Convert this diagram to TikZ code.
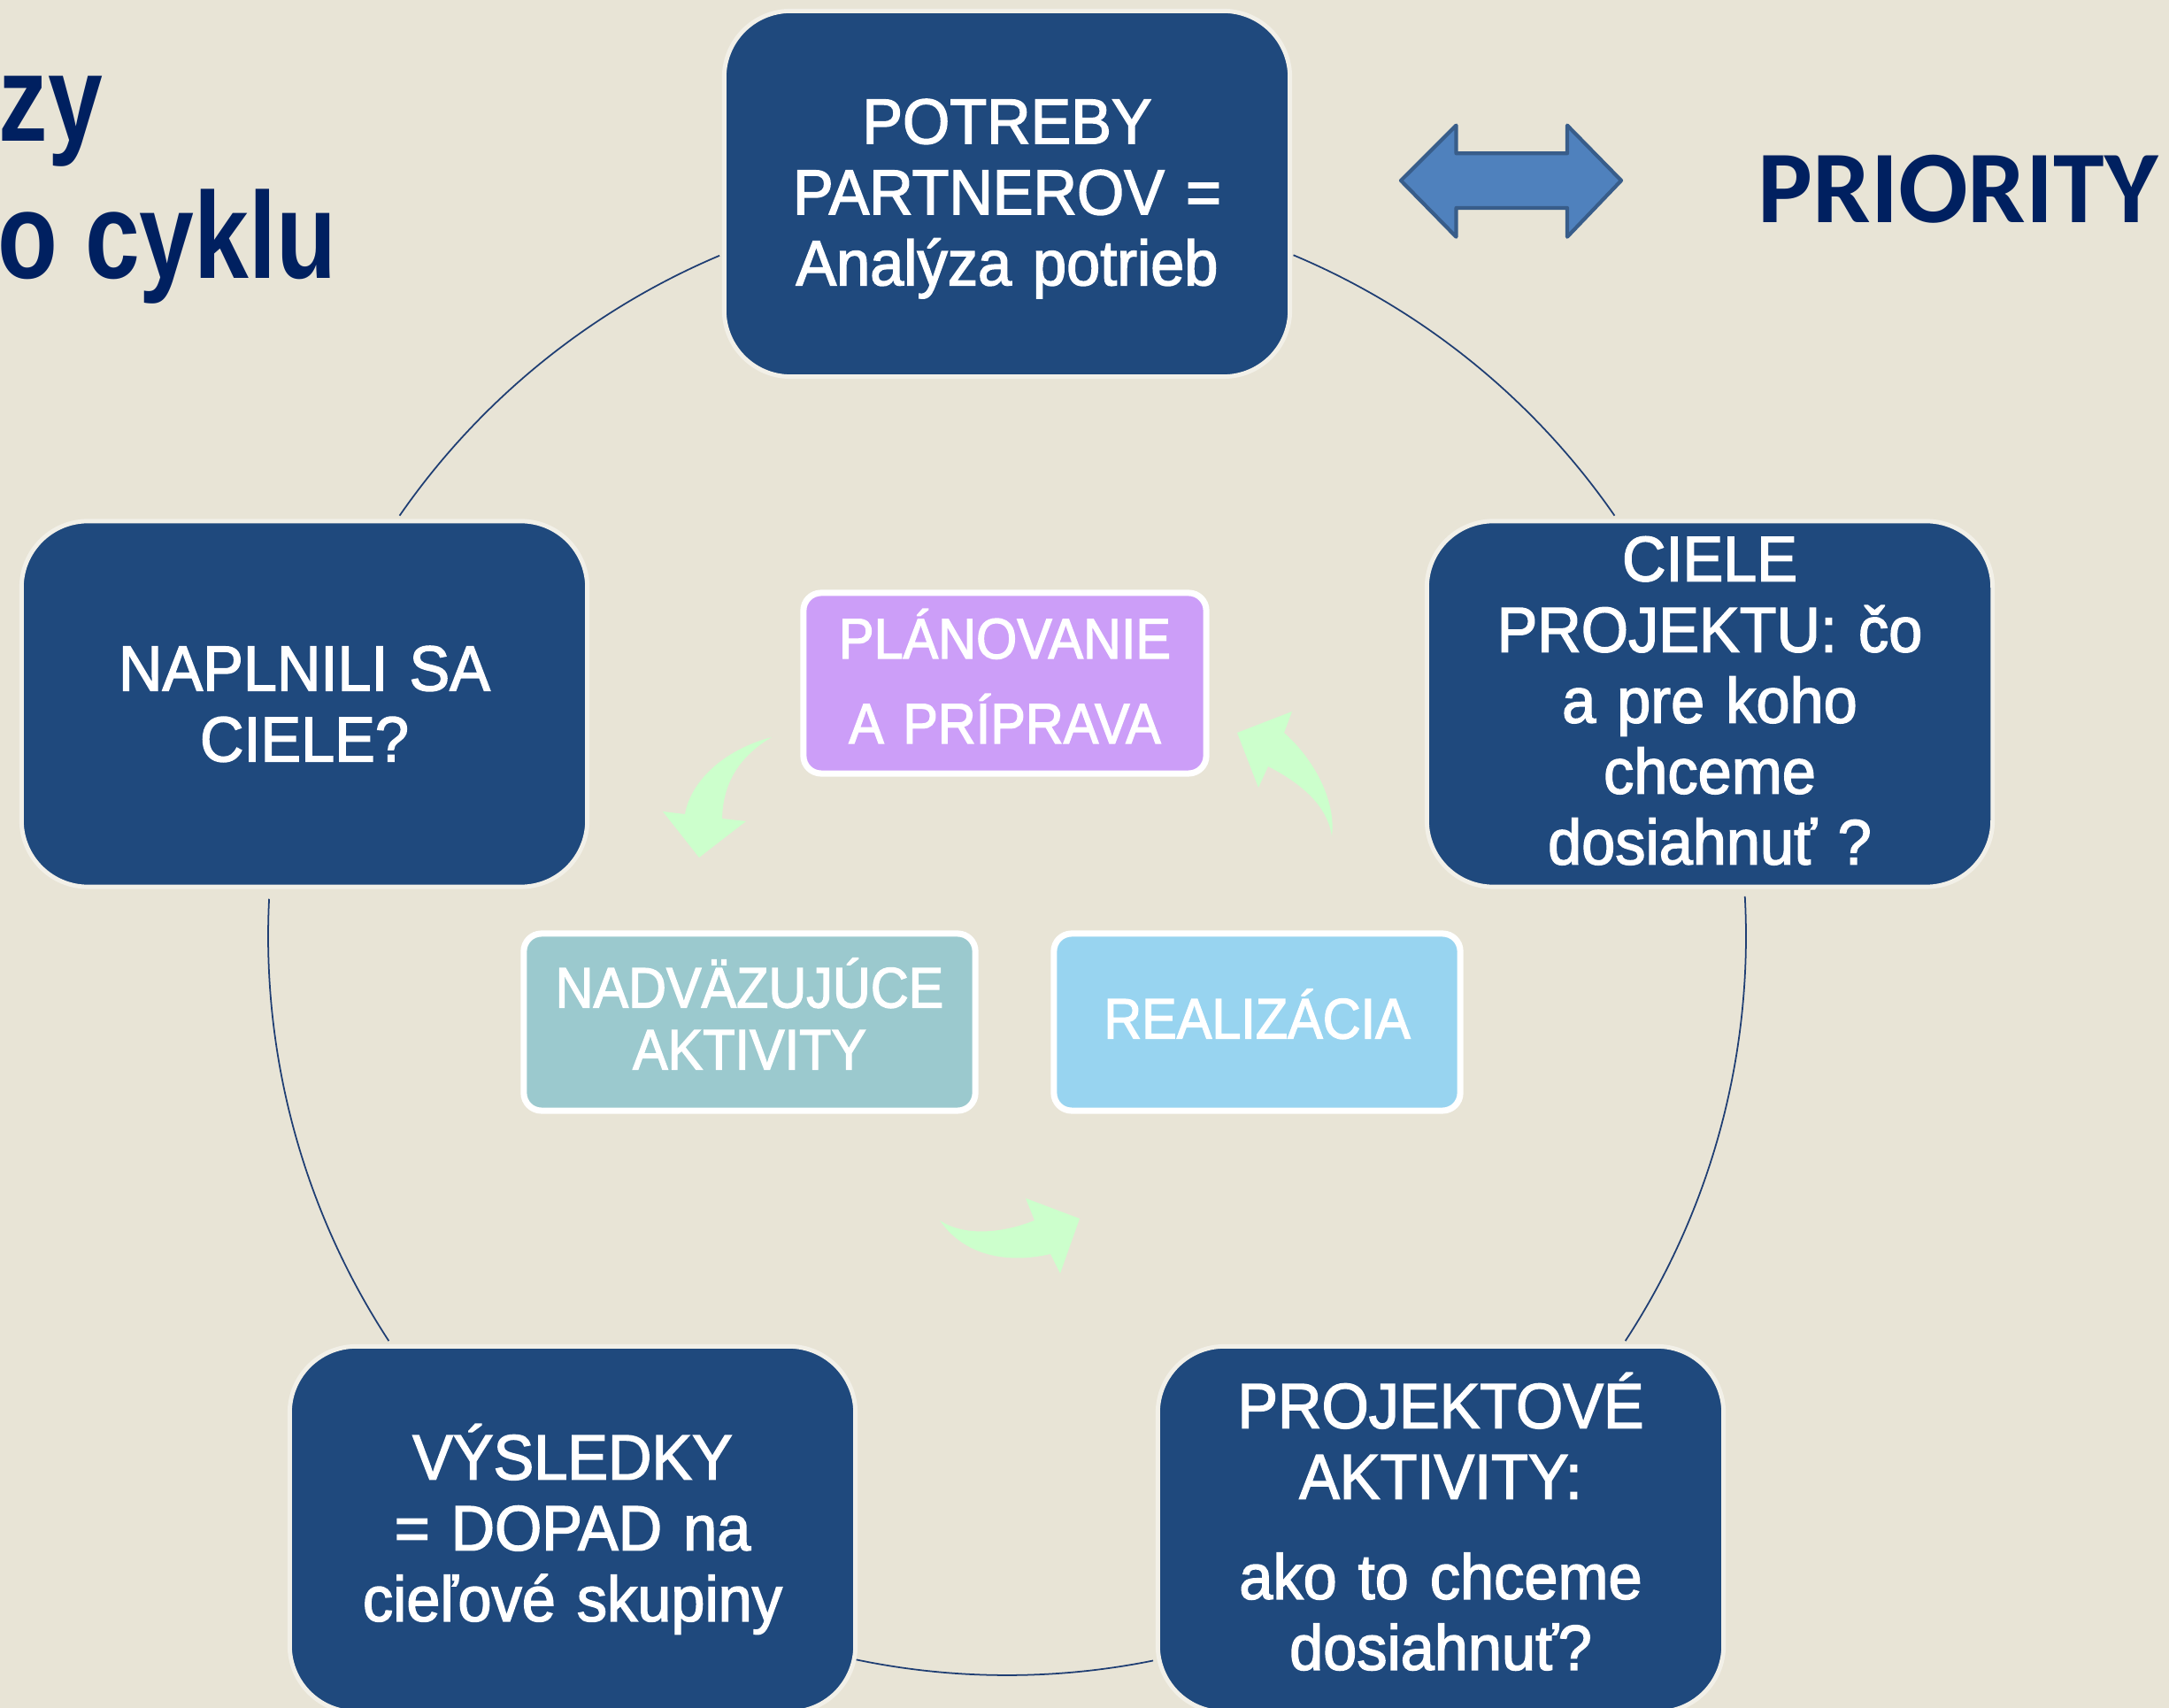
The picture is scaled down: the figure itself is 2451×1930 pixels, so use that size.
\documentclass[tikz,border=0pt]{standalone}
\usepackage{fontspec}
\setmainfont{Liberation Sans}
\newfontfamily\outerfont{Liberation Sans}[FakeStretch=0.95, FakeBold=2, WordSpace=0.88]
\newfontfamily\innerfont{Liberation Sans}[FakeStretch=0.92, FakeBold=2]
\newfontfamily\titlefont{Liberation Sans}[FakeStretch=0.8]
\newfontfamily\prifont{Carlito}
\definecolor{bg}{RGB}{232,228,214}
\definecolor{navybox}{RGB}{31,73,125}
\definecolor{boxedge}{RGB}{242,240,232}
\definecolor{arcblue}{RGB}{31,62,115}
\definecolor{arrowgreen}{RGB}{204,255,204}
\definecolor{purplebox}{RGB}{204,158,248}
\definecolor{tealbox}{RGB}{155,201,206}
\definecolor{skybox}{RGB}{152,212,240}
\definecolor{titlenavy}{RGB}{0,32,96}
\definecolor{dblfill}{RGB}{79,129,189}
\definecolor{dbledge}{RGB}{56,93,138}
\tikzset{
  outerbox/.style={rectangle, rounded corners=0.75cm, fill=navybox, draw=boxedge,
    line width=1.4pt, minimum width=6.39cm, minimum height=4.13cm, inner sep=0pt,
    text width=6.2cm, align=center, text=white,
    font=\outerfont\fontsize{20.5}{22.76}\selectfont},
  innerbox/.style={rectangle, rounded corners=0.2cm, draw=white, line width=2pt,
    inner sep=0pt, align=center, text=white,
    font=\innerfont\fontsize{18.35}{27.3}\selectfont},
  cyc/.style={draw=arcblue, line width=0.5pt},
  greenarrow/.style={fill=arrowgreen, draw=none},
  titletext/.style={inner sep=0pt, text=titlenavy, anchor=base east,
    font=\titlefont\bfseries\fontsize{39.5}{44}\selectfont},
}
\begin{document}
\begin{tikzpicture}[x=0.01cm, y=0.01cm]
\useasboundingbox (0,0) rectangle (2451,1930);
\clip (0,0) rectangle (2451,1930);
\fill[bg] (0,0) rectangle (2451,1930);

% cycle circle centre
\coordinate (c) at (1138,872);

% connecting arcs
\draw[cyc] (c) ++(67.2:835) arc[start angle=67.2, end angle=34.7, radius=835];
\draw[cyc] (c) ++(3.1:835) arc[start angle=3.1, end angle=-33.2, radius=835];
\draw[cyc] (c) ++(-78.6:835) arc[start angle=-78.6, end angle=-101.8, radius=835];
\draw[cyc] (c) ++(-146.8:835) arc[start angle=-146.8, end angle=-182.9, radius=835];
\draw[cyc] (c) ++(145.3:835) arc[start angle=145.3, end angle=112.9, radius=835];

% outer boxes
\node[outerbox] (potreby) at (1138,1711)
  {\rule{0pt}{17.5pt}POTREBY\\PARTNEROV =\\Analýza potrieb};
\node[outerbox] (ciele) at (1932,1134.5)
  {CIELE\\PROJEKTU: čo\\a pre koho\\chceme\\dosiahnuť ?\rule[-2.3pt]{0pt}{0pt}};
\node[outerbox] (aktivity) at (1628,202)
  {PROJEKTOVÉ\\AKTIVITY:\\[9.4pt]ako to chceme\\dosiahnuť?\rule[-5.1pt]{0pt}{0pt}};
\node[outerbox] (vysledky) at (647,202)
  {VÝSLEDKY\\= DOPAD na\\cieľové skupiny};
\node[outerbox] (naplnili) at (344,1134.5)
  {NAPLNILI SA\\CIELE?};

% inner boxes
\node[innerbox, fill=purplebox, minimum width=4.55cm, minimum height=2.04cm,
  text width=4.4cm] (plan) at (1135.5,1158)
  {PLÁNOVANIE\\A PRÍPRAVA\rule[-4.5pt]{0pt}{0pt}};
\node[innerbox, fill=tealbox, minimum width=5.1cm, minimum height=2.0cm,
  text width=4.9cm, font=\innerfont\fontsize{18.35}{19.9}\selectfont] (nadv) at (847,775)
  {NADVÄZUJÚCE\\AKTIVITY\rule[-5.4pt]{0pt}{0pt}};
\node[innerbox, fill=skybox, minimum width=4.59cm, minimum height=2.0cm,
  text width=4.4cm] (real) at (1420.5,775)
  {REALIZÁCIA\rule[-5.4pt]{0pt}{0pt}};

% green curved arrows
\path[greenarrow] (872,1097) .. controls (815,1082) and (780,1045) .. (774,1010)
  -- (749,1013) -- (790,961) -- (843,1002) -- (816,1005)
  .. controls (817,1045) and (835,1075) .. (872,1097) -- cycle;
\path[greenarrow] (1505,985) .. controls (1510,1025) and (1485,1072) .. (1451,1102)
  -- (1460,1126) -- (1398,1102) -- (1422,1040) -- (1433,1064)
  .. controls (1470,1045) and (1500,1020) .. (1505,985) -- cycle;
\path[greenarrow] (1062,551) .. controls (1090,532) and (1135,537) .. (1169,551)
  -- (1159,576) -- (1220,553) -- (1198,491) -- (1187,513)
  .. controls (1140,502) and (1090,510) .. (1062,551) -- cycle;

% title fragments (cut by the left edge)
\node[titletext] (title1) at (117,1770) {zy};
\node[titletext] (title2) at (381,1615) {o cyklu};

% double arrow and PRIORITY
\draw[fill=dblfill, draw=dbledge, line width=1.2pt, line join=round]
  (1583,1726) -- (1645.5,1788.3) -- (1645.5,1756.7) -- (1771,1756.7)
  -- (1771,1788.3) -- (1832,1726) -- (1771,1662.3) -- (1771,1695)
  -- (1645.5,1695) -- (1645.5,1662.3) -- cycle;
\node[inner sep=0pt, anchor=base west, text=titlenavy,
  font=\prifont\bfseries\fontsize{33.1}{36}\selectfont] (priority) at (1986,1678) {PRIORITY};
\end{tikzpicture}
\end{document}
